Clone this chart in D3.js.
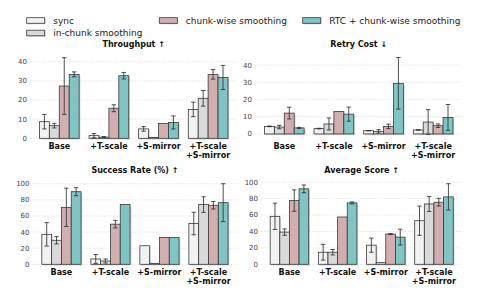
<!DOCTYPE html>
<html><head><meta charset="utf-8">
<script src="https://cdn.jsdelivr.net/npm/d3@7"></script>
<style>body{margin:0;background:#fff}svg{display:block;font-family:"DejaVu Sans",sans-serif}</style>
</head><body><svg id="c" width="479" height="299"></svg>
<script>
const categories = ["Base", "+T-scale", "+S-mirror", "+T-scale\n+S-mirror"];
const seriesNames = ["sync", "in-chunk smoothing", "chunk-wise smoothing", "RTC + chunk-wise smoothing"];
const seriesColors = ["#f2f2f2", "#d9d9d9", "#d3aeb0", "#7fc5c3"];

// rows: sync, in-chunk, chunk-wise, RTC ; columns: categories
const throughputMean = [[8.7,1.4,4.9,15.1],[6.6,0.6,0.4,20.9],[27.3,15.7,7.8,33.4],[33.4,32.7,8.3,31.8]];
const throughputErr  = [[3.8,1.1,1.2,3.8],[1.2,0.3,0,4.1],[14.8,1.8,0,2.5],[1.3,1.7,3.4,6.3]];
const retryMean = [[4.4,3.1,1.9,2.3],[4.0,5.8,1.5,6.9],[12.1,13.1,4.4,4.8],[3.5,11.5,29.4,9.6]];
const retryErr  = [[0.2,0.2,0.1,0.1],[1.0,3.5,1.0,7.2],[3.4,0,1.3,1.0],[0.3,4.1,15.0,7.5]];
const successMean = [[37.2,6.6,23.0,50.6],[29.8,4.1,1.2,74.1],[70.7,49.8,33.3,73.3],[90.1,74.1,33.3,76.5]];
const successErr  = [[14.5,5.5,0,14],[4.5,2.5,0,9.7],[23.8,4.7,0,4.7],[5,0,0,23.5]];
const scoreMean = [[58.4,14.7,23.3,53.1],[39.2,14.7,2.0,73.5],[77.6,57.6,36.8,75.6],[91.9,74.8,33.1,82.1]];
const scoreErr  = [[16,9.6,8.6,17.8],[3.9,3.3,0,9.2],[13,0,0.6,4.7],[4.7,1.2,9.6,16]];

const ticks10 = [0,10,20,30,40];
const ticks20 = [0,20,40,60,80,100];

const panels = [
  {title:"Throughput ↑", mean:throughputMean, err:throughputErr, ticks:ticks10, x0:30, x1:237.4, y0:53.7, y1:138.3},
  {title:"Retry Cost ↓", mean:retryMean, err:retryErr, ticks:ticks10, x0:255, x1:462.4, y0:53.7, y1:138.3},
  {title:"Success Rate (%) ↑", mean:successMean, err:successErr, ticks:ticks20, x0:32.5, x1:237.4, y0:179.7, y1:264.3},
  {title:"Average Score ↑", mean:scoreMean, err:scoreErr, ticks:ticks20, x0:261, x1:462.4, y0:179.7, y1:264.3}
];

const svg = d3.select("#c");

panels.forEach(p => {
  // matplotlib-like autoscale
  let lo = Infinity, hi = -Infinity;
  p.mean.forEach((row,i)=>row.forEach((v,j)=>{ lo=Math.min(lo, v-p.err[i][j]); hi=Math.max(hi, v+p.err[i][j]); }));
  let dlo, dhi;
  if (lo >= 0) { dlo = 0; dhi = hi + 0.05*hi; }
  else { const r = hi - lo; dlo = lo - 0.05*r; dhi = hi + 0.05*r; }
  const y = d3.scaleLinear().domain([dlo, dhi]).range([p.y1, p.y0]);
  const x = d3.scaleBand().domain(categories).range([p.x0, p.x1]).paddingInner(0.2).paddingOuter(0.19);
  const xs = d3.scaleBand().domain(d3.range(seriesNames.length)).range([0, x.bandwidth()]).padding(0);

  const g = svg.append("g");
  // grid
  g.selectAll("line.grid").data(p.ticks).join("line")
    .attr("x1", p.x0).attr("x2", p.x1)
    .attr("y1", d=>y(d)).attr("y2", d=>y(d))
    .attr("stroke", "#d0d0d0").attr("stroke-width", 0.6).attr("stroke-dasharray", "1.5,1.5");
  // y tick labels
  g.selectAll("text.yt").data(p.ticks).join("text")
    .attr("x", p.x0 - 3).attr("y", d=>y(d)).attr("dy", "0.35em")
    .attr("text-anchor", "end").attr("font-size", 7).attr("fill", "#444").text(d=>d);
  // title
  g.append("text").attr("x", (p.x0+p.x1)/2).attr("y", p.y0 - 6.4)
    .attr("text-anchor", "middle").attr("font-size", 8).attr("font-weight", "bold").attr("fill", "#111").text(p.title);
  // x labels
  categories.forEach(c => {
    const t = g.append("text").attr("x", x(c)+x.bandwidth()/2).attr("y", p.y1 + 10.2)
      .attr("text-anchor", "middle").attr("font-size", 8).attr("font-weight", "bold").attr("fill", "#111");
    c.split("\n").forEach((line,k) => t.append("tspan").attr("x", x(c)+x.bandwidth()/2).attr("dy", k===0?0:9).text(line));
  });
  // bars
  const data = [];
  p.mean.forEach((row,i)=>row.forEach((v,j)=>data.push({s:i, c:categories[j], v, e:p.err[i][j]})));
  g.selectAll("rect.sh").data(data).join("rect")
    .attr("x", d=>x(d.c)+xs(d.s)+1.3).attr("y", d=>y(d.v)+1.3)
    .attr("width", xs.bandwidth()).attr("height", d=>Math.max(0, y(0)-y(d.v)))
    .attr("fill", "#000").attr("opacity", 0.16);
  g.selectAll("rect.bar").data(data).join("rect")
    .attr("x", d=>x(d.c)+xs(d.s)).attr("y", d=>y(d.v))
    .attr("width", xs.bandwidth()).attr("height", d=>Math.max(0, y(0)-y(d.v)))
    .attr("fill", d=>seriesColors[d.s]).attr("stroke", "#3a3a3a").attr("stroke-width", 0.8);
  // error bars
  const eb = data.filter(d=>d.e>0);
  const cx = d=>x(d.c)+xs(d.s)+xs.bandwidth()/2;
  g.selectAll("line.ev").data(eb).join("line")
    .attr("x1", cx).attr("x2", cx).attr("y1", d=>y(d.v-d.e)).attr("y2", d=>y(d.v+d.e))
    .attr("stroke", "#333").attr("stroke-opacity", 0.85).attr("stroke-width", 1);
  [1,-1].forEach(sg => {
    g.selectAll("line.cap"+sg).data(eb).join("line")
      .attr("x1", d=>cx(d)-2.2).attr("x2", d=>cx(d)+2.2)
      .attr("y1", d=>y(d.v+sg*d.e)).attr("y2", d=>y(d.v+sg*d.e))
      .attr("stroke", "#333").attr("stroke-opacity", 0.85).attr("stroke-width", 1);
  });
});

// legend
const legendPos = [[26.7,17.7],[26.7,30.2],[159.3,17.7],[302.7,17.7]];
const lg = svg.append("g");
seriesNames.forEach((n,i) => {
  const [lx, ly] = legendPos[i];
  lg.append("rect").attr("x", lx+1).attr("y", ly+1).attr("width", 18).attr("height", 5.6).attr("fill", "#000").attr("opacity", 0.16);
  lg.append("rect").attr("x", lx).attr("y", ly).attr("width", 18).attr("height", 5.6)
    .attr("fill", seriesColors[i]).attr("stroke", "#3a3a3a").attr("stroke-width", 0.8);
  lg.append("text").attr("x", lx+26.5).attr("y", ly+2.8).attr("dy", "0.35em")
    .attr("font-size", 9).attr("fill", "#222").text(n);
});
</script></body></html>
